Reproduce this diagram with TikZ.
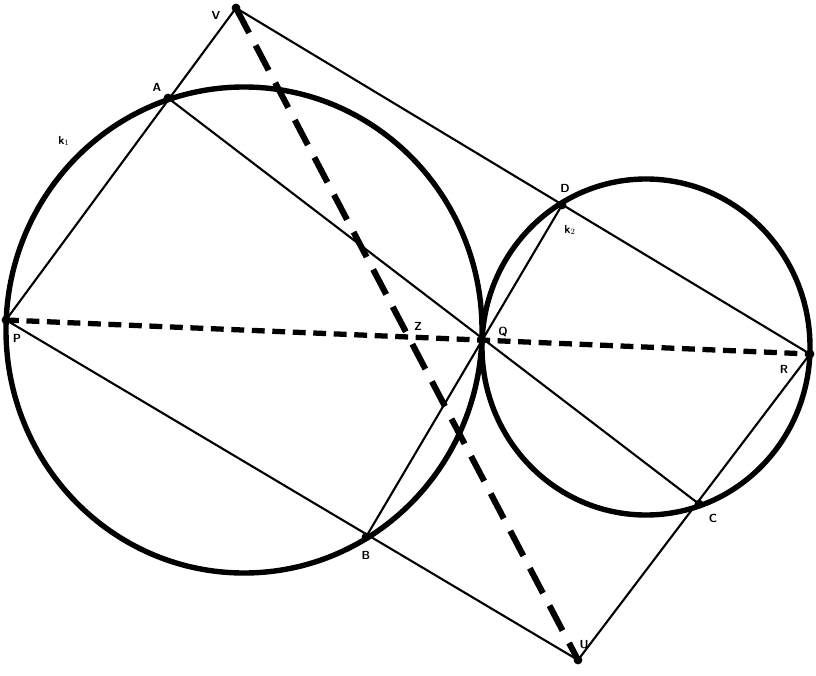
\documentclass[tikz,border=0pt]{standalone}
\usetikzlibrary{calc}
\tikzstyle{circ}=[line width=4.6pt]
\tikzstyle{side}=[line width=1.8pt]
\tikzstyle{diag}=[line width=5.2pt, dash pattern=on 24pt off 12pt]
\tikzstyle{diam}=[line width=4.5pt, dash pattern=on 11pt off 6.5pt]
\tikzstyle{lbl}=[font=\sffamily\bfseries, inner sep=0pt]
\tikzstyle{pt}=[circle, fill=black, inner sep=0pt, minimum size=7.5pt]

\begin{document}
\begin{tikzpicture}[x=0.03cm, y=-0.03cm]
            \useasboundingbox (0,0) rectangle (816,676);
            %Corner points and the points on the circles
            \coordinate (V) at (236,8);
            \coordinate (P) at (6,320);
            \coordinate (U) at (578,660);
            \coordinate (R) at (810,354);
            \coordinate (Q) at (482,340);
            \coordinate (A) at (168,98);
            \coordinate (B) at (366,537);
            \coordinate (C) at (699,504);
            \coordinate (D) at (562,205);
            \coordinate (O1) at (244,330);
            \coordinate (O2) at (646,347);
            \coordinate (Z) at (intersection of V--U and P--R);

            %The two circles
            \draw[circ] (O1) ellipse [x radius=238, y radius=243];
            \draw[circ] (O2) ellipse [x radius=164, y radius=168];

            %Sides and chords
            \draw[side] (V) -- (P) -- (U) -- (R) -- cycle;
            \draw[side] (A) -- (C);
            \draw[side] (D) -- (B);

            %Diagonals
            \draw[diag] (V) -- (U);
            \draw[diam] (P) -- (R);

            \foreach \p in {V,P,U,R,Q,A,B,C,D}{
                \node[pt] (d\p) at (\p) {};
            }

            %Labels
            \node[lbl] (lV) at (216,15) {V};
            \node[lbl] (lA) at (157,87) {A};
            \node[lbl] (lk1) at (64,141) {k$_1$};
            \node[lbl] (lD) at (565,188) {D};
            \node[lbl] (lk2) at (570,230) {k$_2$};
            \node[lbl] (lP) at (17,338) {P};
            \node[lbl] (lZ) at (418,326) {Z};
            \node[lbl] (lQ) at (503,332) {Q};
            \node[lbl] (lR) at (784,369) {R};
            \node[lbl] (lB) at (366,555) {B};
            \node[lbl] (lC) at (713,518) {C};
            \node[lbl] (lU) at (584,645) {U};
        \end{tikzpicture}
\end{document}
